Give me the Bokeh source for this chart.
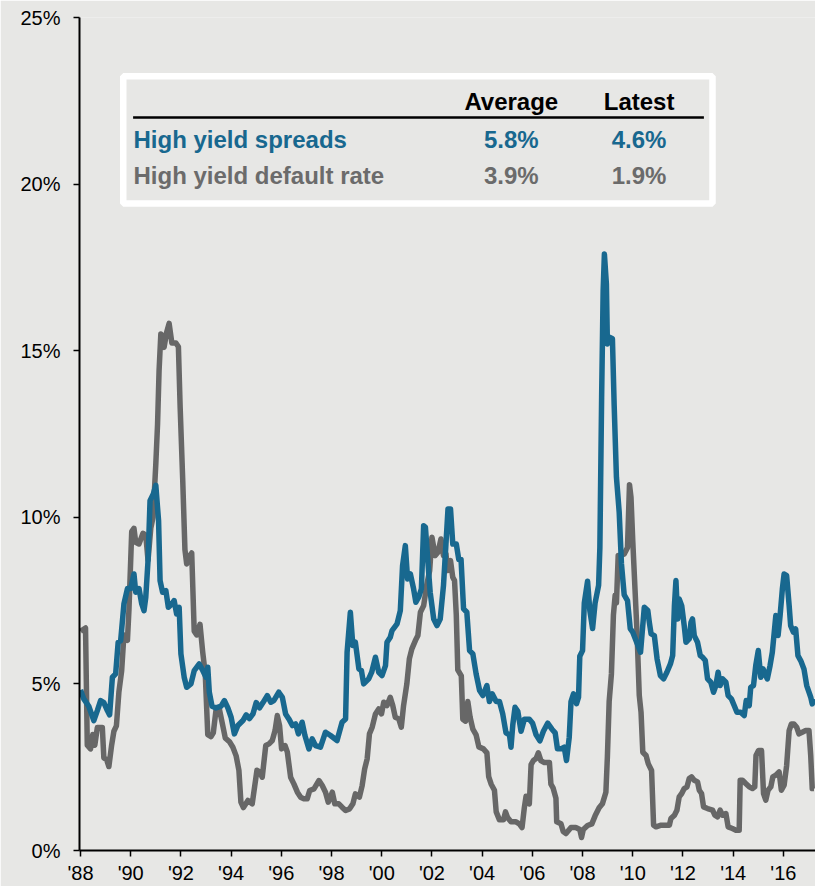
from bokeh.plotting import figure
from bokeh.models import Range1d, FixedTicker, Label
from bokeh.embed import file_html
from bokeh.resources import INLINE

# ---------------- data ----------------
spread_years = [
    1988.0, 1988.13, 1988.33, 1988.53, 1988.67, 1988.8, 1988.93, 1989.07, 1989.16, 1989.27,
    1989.4, 1989.5, 1989.6, 1989.73, 1989.87, 1990.0, 1990.13, 1990.2, 1990.33, 1990.44,
    1990.53, 1990.6, 1990.69, 1990.77, 1990.9, 1991.0, 1991.11, 1991.17, 1991.27, 1991.4,
    1991.5, 1991.64, 1991.73, 1991.83, 1991.93, 1992.0, 1992.13, 1992.23, 1992.4, 1992.53,
    1992.73, 1992.87, 1993.0, 1993.07, 1993.13, 1993.24, 1993.4, 1993.6, 1993.73, 1993.87,
    1994.0, 1994.13, 1994.27, 1994.47, 1994.6, 1994.73, 1994.87, 1995.0, 1995.13, 1995.27,
    1995.44, 1995.58, 1995.7, 1995.9, 1996.04, 1996.17, 1996.3, 1996.44, 1996.57, 1996.68,
    1996.83, 1996.94, 1997.1, 1997.23, 1997.36, 1997.56, 1997.76, 1997.96, 1998.22, 1998.42,
    1998.56, 1998.62, 1998.75, 1998.85, 1998.95, 1999.09, 1999.19, 1999.28, 1999.48, 1999.6,
    1999.75, 1999.88, 2000.01, 2000.15, 2000.21, 2000.34, 2000.41, 2000.61, 2000.74, 2000.83,
    2000.94, 2001.03, 2001.14, 2001.27, 2001.36, 2001.47, 2001.58, 2001.67, 2001.74, 2001.84,
    2001.93, 2002.07, 2002.2, 2002.33, 2002.46, 2002.57, 2002.64, 2002.74, 2002.83, 2002.97,
    2003.07, 2003.16, 2003.26, 2003.39, 2003.5, 2003.63, 2003.76, 2003.9, 2004.03, 2004.19,
    2004.29, 2004.4, 2004.56, 2004.69, 2004.82, 2004.95, 2005.09, 2005.15, 2005.22, 2005.31,
    2005.42, 2005.55, 2005.68, 2005.88, 2006.01, 2006.15, 2006.3, 2006.44, 2006.61, 2006.78,
    2006.91, 2007.0, 2007.14, 2007.27, 2007.36, 2007.47, 2007.54, 2007.64, 2007.76, 2007.84,
    2007.89, 2008.0, 2008.07, 2008.2, 2008.29, 2008.4, 2008.5, 2008.64, 2008.69, 2008.76,
    2008.82, 2008.87, 2008.95, 2008.99, 2009.09, 2009.19, 2009.26, 2009.35, 2009.46, 2009.55,
    2009.66, 2009.79, 2009.9, 2010.0, 2010.31, 2010.46, 2010.6, 2010.66, 2010.73, 2010.86,
    2010.97, 2011.1, 2011.23, 2011.36, 2011.5, 2011.59, 2011.66, 2011.72, 2011.79, 2011.85,
    2011.95, 2012.05, 2012.12, 2012.25, 2012.32, 2012.38, 2012.45, 2012.58, 2012.69, 2012.78,
    2012.89, 2012.98, 2013.11, 2013.22, 2013.31, 2013.4, 2013.48, 2013.58, 2013.71, 2013.8,
    2013.93, 2014.04, 2014.15, 2014.3, 2014.44, 2014.52, 2014.64, 2014.7, 2014.81, 2014.9,
    2015.0, 2015.1, 2015.19, 2015.3, 2015.36, 2015.47, 2015.56, 2015.7, 2015.79, 2015.87,
    2015.96, 2016.03, 2016.13, 2016.23, 2016.29, 2016.4, 2016.49, 2016.58, 2016.69, 2016.82,
    2016.93, 2017.02, 2017.09, 2017.15, 2017.22,
]
spread_values = [
    4.82, 4.55, 4.33, 3.9, 4.2, 4.5, 4.44, 4.2, 4.07, 5.2,
    5.3, 6.25, 6.3, 7.4, 7.86, 7.86, 8.3, 7.75, 7.86, 7.4,
    7.2, 7.6, 8.7, 10.5, 10.7, 10.96, 9.9, 8.1, 7.75, 7.8,
    7.3, 7.4, 7.5, 7.1, 7.3, 5.9, 5.2, 4.9, 5.0, 5.4,
    5.6, 5.4, 5.2, 5.5, 4.76, 4.33, 4.28, 4.33, 4.5, 4.28,
    4.0, 3.5, 3.75, 3.9, 4.07, 3.96, 4.1, 4.44, 4.28, 4.44,
    4.65, 4.45, 4.5, 4.75, 4.6, 4.1, 3.95, 3.75, 3.8, 3.5,
    3.85, 3.45, 3.05, 3.35, 3.15, 3.1, 3.55, 3.45, 3.3, 3.85,
    3.95, 5.95, 7.15, 6.15, 6.25, 5.45, 5.4, 5.0, 5.15, 5.35,
    5.8, 5.35, 5.25, 5.55, 6.25, 6.4, 6.6, 6.8, 7.2, 8.55,
    9.15, 8.15, 8.3, 7.85, 7.45, 7.6, 7.85, 9.75, 9.7, 8.65,
    7.75, 6.95, 6.75, 6.95, 7.95, 9.35, 10.25, 10.25, 9.2, 9.2,
    8.73, 8.73, 7.25, 7.15, 6.0, 5.9, 5.3, 4.8, 4.65, 4.95,
    4.47, 4.7, 4.47, 4.47, 4.1, 3.53, 3.47, 3.1, 3.76, 4.3,
    4.18, 3.58, 3.94, 3.94, 3.82, 3.47, 3.29, 3.58, 3.82, 3.64,
    3.53, 3.05, 3.05, 3.1, 2.7, 3.4, 4.47, 4.7, 4.41, 4.6,
    5.83, 6.0, 7.43, 8.08, 7.2, 6.66, 7.43, 7.96, 9.09, 13.6,
    16.78, 17.9, 17.0, 15.2, 15.4, 15.36, 13.35, 11.2, 10.15, 8.6,
    7.67, 7.5, 6.66, 6.55, 5.95, 7.3, 7.2, 6.85, 6.5, 6.45,
    5.75, 5.25, 5.15, 5.35, 5.6, 5.85, 7.35, 8.1, 6.95, 7.55,
    7.35, 6.75, 6.25, 6.35, 6.85, 6.95, 6.45, 6.25, 5.85, 5.8,
    5.7, 5.15, 5.05, 4.75, 4.95, 5.35, 4.95, 5.15, 5.05, 4.65,
    4.55, 4.35, 4.15, 4.15, 4.05, 4.5, 4.35, 4.9, 4.95, 5.55,
    6.0, 5.2, 5.45, 5.25, 5.15, 5.55, 5.95, 7.05, 6.45, 7.05,
    7.85, 8.3, 8.25, 7.35, 6.75, 6.55, 6.65, 5.85, 5.7, 5.45,
    4.95, 4.75, 4.6, 4.4, 4.55,
]

default_years = [
    1988.0, 1988.2, 1988.27, 1988.4, 1988.49, 1988.57, 1988.67, 1988.87, 1988.93, 1989.04,
    1989.13, 1989.24, 1989.33, 1989.43, 1989.53, 1989.64, 1989.73, 1989.87, 1989.93, 1990.04,
    1990.13, 1990.2, 1990.33, 1990.49, 1990.6, 1990.69, 1990.8, 1990.89, 1991.0, 1991.07,
    1991.13, 1991.2, 1991.27, 1991.33, 1991.43, 1991.53, 1991.64, 1991.8, 1991.9, 1991.97,
    1992.07, 1992.16, 1992.23, 1992.33, 1992.43, 1992.53, 1992.63, 1992.76, 1992.87, 1992.97,
    1993.07, 1993.2, 1993.29, 1993.4, 1993.53, 1993.64, 1993.77, 1993.93, 1994.07, 1994.2,
    1994.31, 1994.39, 1994.49, 1994.67, 1994.84, 1994.93, 1995.03, 1995.13, 1995.24, 1995.38,
    1995.51, 1995.64, 1995.75, 1995.84, 1995.93, 1996.01, 1996.15, 1996.24, 1996.37, 1996.5,
    1996.64, 1996.77, 1996.9, 1997.03, 1997.13, 1997.3, 1997.5, 1997.63, 1997.76, 1997.87,
    1998.03, 1998.13, 1998.29, 1998.42, 1998.56, 1998.72, 1998.85, 1998.95, 1999.11, 1999.22,
    1999.32, 1999.42, 1999.51, 1999.62, 1999.75, 1999.88, 1999.99, 2000.08, 2000.21, 2000.34,
    2000.44, 2000.54, 2000.68, 2000.78, 2000.87, 2001.0, 2001.1, 2001.2, 2001.34, 2001.44,
    2001.54, 2001.67, 2001.8, 2001.91, 2002.0, 2002.13, 2002.24, 2002.36, 2002.46, 2002.56,
    2002.62, 2002.74, 2002.83, 2002.9, 2002.97, 2003.03, 2003.17, 2003.23, 2003.34, 2003.43,
    2003.52, 2003.63, 2003.76, 2003.87, 2004.05, 2004.19, 2004.26, 2004.36, 2004.49, 2004.56,
    2004.69, 2004.85, 2004.93, 2005.02, 2005.15, 2005.35, 2005.48, 2005.59, 2005.68, 2005.75,
    2005.88, 2005.95, 2006.04, 2006.15, 2006.24, 2006.34, 2006.48, 2006.68, 2006.74, 2006.83,
    2006.94, 2006.97, 2007.14, 2007.23, 2007.34, 2007.54, 2007.73, 2007.89, 2007.96, 2008.03,
    2008.2, 2008.37, 2008.5, 2008.66, 2008.79, 2008.93, 2008.99, 2009.06, 2009.15, 2009.23,
    2009.3, 2009.35, 2009.42, 2009.52, 2009.66, 2009.79, 2009.87, 2009.93, 2010.0, 2010.09,
    2010.17, 2010.26, 2010.33, 2010.4, 2010.53, 2010.62, 2010.75, 2010.83, 2010.93, 2011.13,
    2011.32, 2011.46, 2011.52, 2011.66, 2011.76, 2011.85, 2011.95, 2012.05, 2012.16, 2012.25,
    2012.34, 2012.45, 2012.58, 2012.65, 2012.74, 2012.82, 2012.98, 2013.18, 2013.27, 2013.38,
    2013.48, 2013.58, 2013.71, 2013.8, 2013.97, 2014.11, 2014.24, 2014.28, 2014.37, 2014.5,
    2014.64, 2014.77, 2014.86, 2014.91, 2015.01, 2015.13, 2015.21, 2015.3, 2015.39, 2015.5,
    2015.58, 2015.7, 2015.83, 2015.92, 2016.03, 2016.13, 2016.23, 2016.32, 2016.42, 2016.53,
    2016.62, 2016.75, 2016.89, 2017.02, 2017.09, 2017.15, 2017.22,
]
default_values = [
    6.58, 6.68, 3.16, 3.05, 3.48, 3.16, 3.69, 3.69, 2.78, 2.73,
    2.52, 3.16, 3.58, 3.74, 4.76, 5.4, 6.47, 6.31, 7.22, 9.57,
    9.67, 9.25, 9.2, 9.52, 9.46, 8.71, 9.67, 10.0, 11.6, 12.8,
    14.4, 15.5, 15.45, 15.1, 15.55, 15.82, 15.23, 15.23, 15.12, 13.3,
    11.17, 9.03, 8.6, 8.82, 8.93, 6.58, 6.47, 6.79, 5.94, 5.3,
    3.48, 3.42, 3.53, 4.23, 4.25, 3.85, 3.37, 3.27, 3.1, 2.84,
    2.41, 1.45, 1.29, 1.5, 1.4, 1.88, 2.41, 2.36, 2.2, 3.15,
    3.2, 3.3, 3.6, 4.05, 3.75, 3.05, 3.15, 2.95, 2.2, 2.0,
    1.75, 1.6, 1.55, 1.55, 1.8, 1.85, 2.1, 1.95, 1.75, 1.45,
    1.75, 1.4, 1.4, 1.3, 1.2, 1.25, 1.4, 1.7, 1.6, 1.95,
    2.45, 2.75, 3.5, 3.7, 4.1, 4.25, 4.1, 4.45, 4.35, 4.6,
    4.35, 4.0, 3.95, 3.7, 4.35, 5.0, 5.75, 6.05, 6.3, 6.45,
    7.15, 7.35, 8.0, 8.4, 9.4, 8.85, 8.95, 9.35, 8.85, 8.9,
    8.4, 8.7, 8.2, 8.1, 7.07, 5.42, 5.24, 3.94, 3.88, 4.47,
    4.0, 3.64, 3.47, 3.11, 3.05, 2.93, 2.22, 1.99, 1.81, 1.16,
    0.92, 0.92, 1.16, 0.98, 0.86, 0.86, 0.8, 0.69, 1.28, 1.63,
    1.4, 2.58, 2.7, 2.76, 2.93, 2.7, 2.64, 2.64, 1.99, 1.87,
    1.57, 0.86, 0.8, 0.57, 0.51, 0.69, 0.69, 0.63, 0.39, 0.63,
    0.75, 0.8, 1.04, 1.28, 1.4, 1.75, 2.82, 4.47, 5.3, 7.07,
    7.67, 7.43, 8.85, 8.85, 8.9, 9.09, 10.98, 10.6, 9.3, 7.84,
    6.55, 4.65, 4.15, 2.95, 2.85, 2.6, 2.4, 0.76, 0.71, 0.76,
    0.76, 0.76, 0.96, 1.06, 1.21, 1.61, 1.71, 1.86, 1.91, 2.16,
    2.21, 2.11, 2.06, 1.81, 1.71, 1.31, 1.26, 1.21, 1.06, 1.01,
    1.21, 1.06, 1.11, 0.71, 0.66, 0.61, 0.61, 2.11, 2.11, 2.01,
    1.91, 1.86, 1.91, 2.85, 3.0, 3.0, 1.71, 1.51, 1.81, 1.91,
    2.21, 2.26, 2.36, 1.81, 1.96, 2.55, 3.6, 3.8, 3.8, 3.7,
    3.5, 3.55, 3.6, 3.6, 2.85, 1.86, 1.86,
]

x_tick_years = [1988, 1990, 1992, 1994, 1996, 1998, 2000, 2002, 2004, 2006, 2008, 2010, 2012, 2014, 2016]
x_tick_labels = ["'88", "'90", "'92", "'94", "'96", "'98", "'00", "'02", "'04", "'06", "'08", "'10", "'12", "'14", "'16"]
y_ticks = [0, 5, 10, 15, 20, 25]
y_tick_labels = ["0%", "5%", "10%", "15%", "20%", "25%"]

table_columns = ["Average", "Latest"]
table_series = ["High yield spreads", "High yield default rate"]
table_average = ["5.8%", "3.9%"]
table_latest = ["4.6%", "1.9%"]

# ---------------- style ----------------
BG = "#e7e7e5"
BLUE = "#18688f"
GRAY = "#676767"
GRAY_TXT = "#6b6b6b"
FONT = "Liberation Sans"

W, H = 815, 886
MB_L, MB_R, MB_T, MB_B = 79, 0, 17, 34
X0, X1 = 1987.96, 2017.28
Y0, Y1 = 0, 25

p = figure(width=W, height=H, output_backend="svg", toolbar_location=None,
           x_range=Range1d(X0, X1), y_range=Range1d(Y0, Y1),
           background_fill_color=BG, border_fill_color=BG)
p.min_border_left = MB_L
p.min_border_right = MB_R
p.min_border_top = MB_T
p.min_border_bottom = MB_B
p.outline_line_color = None
p.grid.visible = False

# page-pixel -> data helpers for the summary-table placement
FL, FR = MB_L, W - MB_R
FT, FB = MB_T, H - MB_B


def dx(px):
    return X0 + (px - FL) / (FR - FL) * (X1 - X0)


def dy(py):
    return Y0 + (FB - py) / (FB - FT) * (Y1 - Y0)


for ax in (p.xaxis[0], p.yaxis[0]):
    ax.axis_line_color = "black"
    ax.axis_line_width = 2
    ax.major_tick_line_color = "black"
    ax.major_tick_line_width = 1.5
    ax.major_tick_in = 0
    ax.major_tick_out = 6
    ax.minor_tick_line_color = None
    ax.major_label_text_font = FONT
    ax.major_label_text_font_size = "20px"
    ax.major_label_text_color = "black"

p.xaxis.ticker = FixedTicker(ticks=x_tick_years)
p.xaxis.major_label_overrides = dict(zip(x_tick_years, x_tick_labels))
p.xaxis.major_label_standoff = 5
p.yaxis.ticker = FixedTicker(ticks=y_ticks)
p.yaxis.major_label_overrides = dict(zip(y_ticks, y_tick_labels))
p.yaxis.major_label_standoff = 13

p.line(default_years, default_values, line_color=GRAY, line_width=5.5, line_join="round")
p.line(spread_years, spread_values, line_color=BLUE, line_width=5.5, line_join="round")

# ---------------- summary table ----------------
p.quad(left=[dx(122.75)], right=[dx(712.0)], top=[dy(75.95)], bottom=[dy(203.45)],
       fill_color=BG, line_color="white", line_width=6.5)
p.line([dx(132.6), dx(703.4)], [dy(117.3), dy(117.3)], line_color="black", line_width=2.5)

col_x = [510.8, 638.6]
FS = "24px"
for cx, name in zip(col_x, table_columns):
    p.add_layout(Label(x=dx(cx), y=dy(101.0), text=name, text_align="center",
                       text_baseline="alphabetic", text_font=FONT, text_font_size=FS,
                       text_font_style="bold", text_color="black"))

row_y = [138.8, 175.8]
row_colors = [BLUE, GRAY_TXT]
for ry, col, name, avg, lat in zip(row_y, row_colors, table_series, table_average, table_latest):
    p.add_layout(Label(x=dx(133.0), y=dy(ry), text=name, text_align="left",
                       text_baseline="alphabetic", text_font=FONT, text_font_size=FS,
                       text_font_style="bold", text_color=col))
    for cx, val in zip(col_x, [avg, lat]):
        p.add_layout(Label(x=dx(cx), y=dy(ry), text=val, text_align="center",
                           text_baseline="alphabetic", text_font=FONT, text_font_size=FS,
                           text_font_style="bold", text_color=col))

open("out.html", "w").write(file_html(p, INLINE))
